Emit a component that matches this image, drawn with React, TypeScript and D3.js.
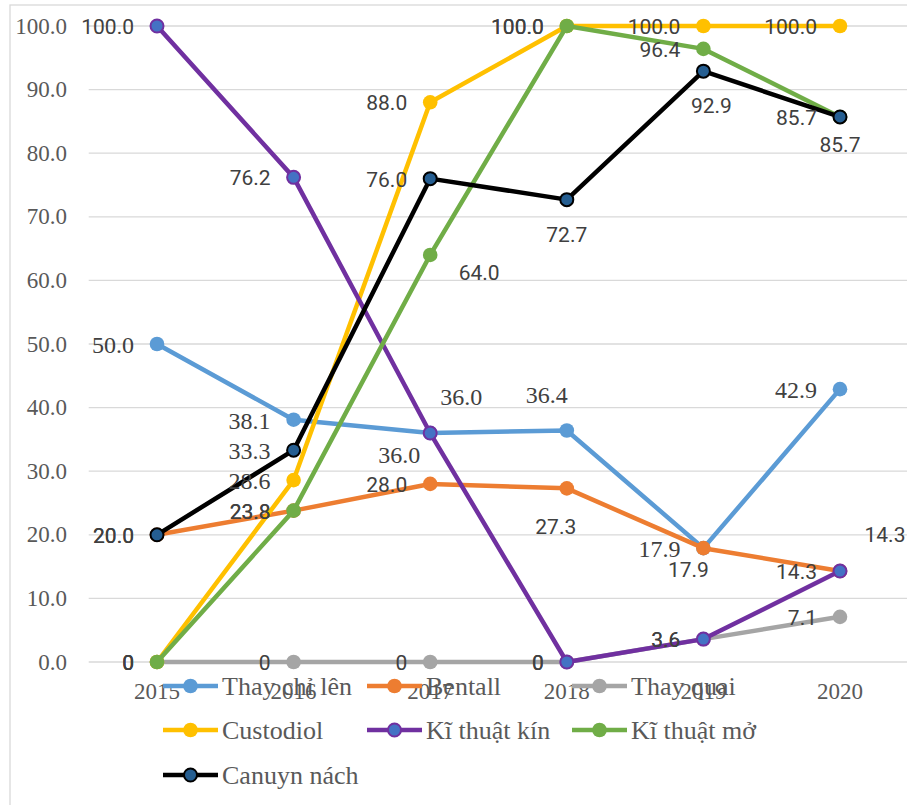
import React from "react";
import * as d3 from "d3";

const years = ["2015", "2016", "2017", "2018", "2019", "2020"];
const yTicks = [0, 10, 20, 30, 40, 50, 60, 70, 80, 90, 100];

const seriesNames = ["Thay chỉ lên", "Bentall", "Thay quai", "Custodiol", "Kĩ thuật kín", "Kĩ thuật mở", "Canuyn nách"];
const thayChiLen = [50.0, 38.1, 36.0, 36.4, 17.9, 42.9];
const bentall = [20.0, 23.8, 28.0, 27.3, 17.9, 14.3];
const thayQuai = [0, 0, 0, 0, 3.6, 7.1];
const custodiol = [0, 28.6, 88.0, 100.0, 100.0, 100.0];
const kiThuatKin = [100.0, 76.2, 36.0, 0, 3.6, 14.3];
const kiThuatMo = [0, 23.8, 64.0, 100.0, 96.4, 85.7];
const canuynNach = [20.0, 33.3, 76.0, 72.7, 92.9, 85.7];
const seriesValues = [thayChiLen, bentall, thayQuai, custodiol, kiThuatKin, kiThuatMo, canuynNach];

// styles
const lineColors = ["#5B9BD5", "#ED7D31", "#A5A5A5", "#FFC000", "#7030A0", "#70AD47", "#000000"];
const markerFills = ["#5B9BD5", "#ED7D31", "#A5A5A5", "#FFC000", "#4472C4", "#70AD47", "#255E91"];
const markerStrokes = [null, null, null, null, "#7030A0", null, "#000000"];

// label placement: "l" = left of point, otherwise [dx, dy] centred offset
type Place = "l" | [number, number];
const labelPlaces: Place[][] = [
  ["l", "l", [31, -36], [-20, -35], "l", "l"],
  ["l", "l", "l", [-11, 39], [-15, 22], [45, -36]],
  ["l", "l", "l", "l", "l", "l"],
  ["l", "l", "l", "l", "l", "l"],
  ["l", "l", [-31, 22], "l", "l", "l"],
  ["l", "l", [49, 18], "l", "l", "l"],
  ["l", "l", "l", [0, 35], [8, 35], [0, 28]],
];
const labelSerif: boolean[][] = [
  [true, true, true, true, true, true],
  [false, false, false, false, false, false],
  [false, false, false, false, false, false],
  [false, true, false, false, false, false],
  [false, false, true, false, false, false],
  [false, false, false, false, false, false],
  [false, true, false, false, false, false],
];

// legend layout (columns x-start, rows)
const legendCols = [163, 367, 572];
const legendRows = [686, 730, 775];

const SERIF = "'Liberation Serif', 'Times New Roman', serif";
const SANS = "Roboto, 'Noto Sans', sans-serif";

export default function App() {
  const W = 907;
  const H = 805;
  const plotLeft = 88.7;
  const plotRight = 908.3;
  const x = d3.scaleBand().domain(years).range([plotLeft, plotRight]);
  const cx = (yr: string) => (x(yr) as number) + x.bandwidth() / 2;
  const y = d3.scaleLinear().domain([0, 100]).range([662, 26]);
  const line = d3
    .line<number>()
    .x((_, i) => cx(years[i]))
    .y((v) => y(v));

  const fmt = (v: number) => (v === 0 ? "0" : v.toFixed(1));

  return (
    <div style={{ position: "absolute", left: 0, top: 0 }}>
      <svg width={W} height={H} style={{ display: "block", background: "#fff" }}>
        <rect x={10} y={5} width={W + 20} height={H + 20} fill="#fff" stroke="#D9D9D9" strokeWidth={1.3} />
        {yTicks.map((t) => (
          <g key={t}>
            <line x1={plotLeft} x2={W} y1={y(t)} y2={y(t)} stroke="#D9D9D9" strokeWidth={1.3} />
            <text
              x={67}
              y={y(t)}
              textAnchor="end"
              dominantBaseline="central"
              fontFamily={SERIF}
              fontSize={23}
              fill="#595959"
            >
              {t.toFixed(1)}
            </text>
          </g>
        ))}
        {years.map((yr) => (
          <text
            key={yr}
            x={cx(yr)}
            y={691}
            textAnchor="middle"
            dominantBaseline="central"
            fontFamily={SERIF}
            fontSize={23}
            fill="#595959"
          >
            {yr}
          </text>
        ))}
        {seriesValues.map((vals, si) => (
          <g key={seriesNames[si]}>
            <path d={line(vals) || ""} fill="none" stroke={lineColors[si]} strokeWidth={4.5} strokeLinejoin="round" />
            {vals.map((v, i) => (
              <circle
                key={i}
                cx={cx(years[i])}
                cy={y(v)}
                r={markerStrokes[si] ? 6.5 : 7.3}
                fill={markerFills[si]}
                stroke={markerStrokes[si] || "none"}
                strokeWidth={markerStrokes[si] ? 2 : 0}
              />
            ))}
          </g>
        ))}
        {seriesValues.map((vals, si) =>
          vals.map((v, i) => {
            const p = labelPlaces[si][i];
            const px = cx(years[i]);
            const py = y(v);
            const serif = labelSerif[si][i];
            const isLeft = p === "l";
            const tx = isLeft ? px - 23 : px + (p as [number, number])[0];
            const ty = isLeft ? py + 1 : py + (p as [number, number])[1];
            return (
              <text
                key={`${si}-${i}`}
                x={tx}
                y={ty}
                textAnchor={isLeft ? "end" : "middle"}
                dominantBaseline="central"
                fontFamily={serif ? SERIF : SANS}
                fontSize={serif ? 24 : 21}
                fill="#404040"
              >
                {fmt(v)}
              </text>
            );
          })
        )}
        {seriesNames.map((name, si) => {
          const col = si < 6 ? si % 3 : 0;
          const row = Math.floor(si / 3);
          const lx = legendCols[col];
          const ly = legendRows[row];
          return (
            <g key={name}>
              <line x1={lx} x2={lx + 55} y1={ly} y2={ly} stroke={lineColors[si]} strokeWidth={4.5} />
              <circle
                cx={lx + 27.5}
                cy={ly}
                r={markerStrokes[si] ? 6.5 : 7.3}
                fill={markerFills[si]}
                stroke={markerStrokes[si] || "none"}
                strokeWidth={markerStrokes[si] ? 2 : 0}
              />
              <text
                x={lx + 59}
                y={ly}
                dominantBaseline="central"
                fontFamily={SERIF}
                fontSize={26}
                fill="#595959"
              >
                {name}
              </text>
            </g>
          );
        })}
      </svg>
    </div>
  );
}
